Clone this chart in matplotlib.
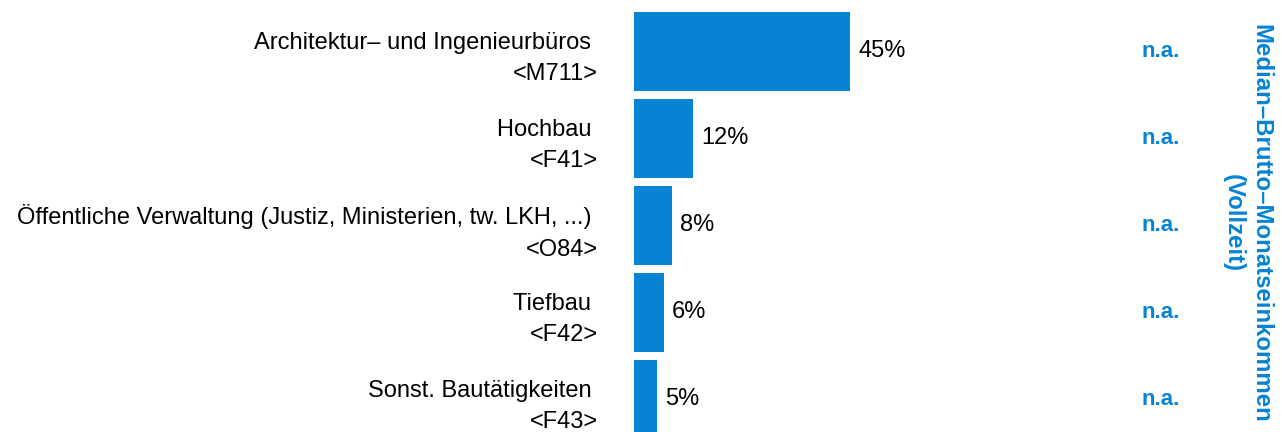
import matplotlib
matplotlib.use("Agg")
import matplotlib.pyplot as plt

plt.rcParams['font.family'] = ['Liberation Sans', 'DejaVu Sans']

# data
categories = ["Architektur– und Ingenieurbüros ", "Hochbau ",
              "Öffentliche Verwaltung (Justiz, Ministerien, tw. LKH, ...) ",
              "Tiefbau ", "Sonst. Bautätigkeiten "]
codes = ["<M711>", "<F41>", "<O84>", "<F42>", "<F43>"]
shares = [45, 12.3, 7.9, 6.2, 4.8]
share_labels = ["45%", "12%", "8%", "6%", "5%"]
median_income = ["n.a.", "n.a.", "n.a.", "n.a.", "n.a."]

blue = '#0683d3'

fig = plt.figure(figsize=(12.82, 4.32), dpi=100)
ax = fig.add_axes([634 / 1282, 0, 648 / 1282, 1])

y = list(range(len(shares)))
bars = ax.barh(y, shares, height=0.908, color=blue)
ax.set_xlim(0, 135)
ax.set_ylim(4.374, -0.592)

ax.set_yticks(y, [c + "\n" + k for c, k in zip(categories, codes)])
ax.tick_params(axis='y', length=0, pad=26, labelsize=17)
for t in ax.get_yticklabels():
    t.set_linespacing(1.55)
ax.set_xticks([])
for s in ax.spines.values():
    s.set_visible(False)

ax.bar_label(bars, labels=share_labels, padding=6, fontsize=17)

for i, txt in enumerate(median_income):
    ax.text(109.8, i, txt, ha='center', va='center', fontsize=16,
            fontweight='bold', color=blue)

fig.text(1247 / 1282, 1 - 223 / 432, "Median–Brutto–Monatseinkommen\n(Vollzeit)",
         rotation=270, ha='center', va='center', multialignment='center',
         fontsize=17.3, fontweight='bold', color=blue, linespacing=1.3)

fig.savefig("out.png", dpi=100)
